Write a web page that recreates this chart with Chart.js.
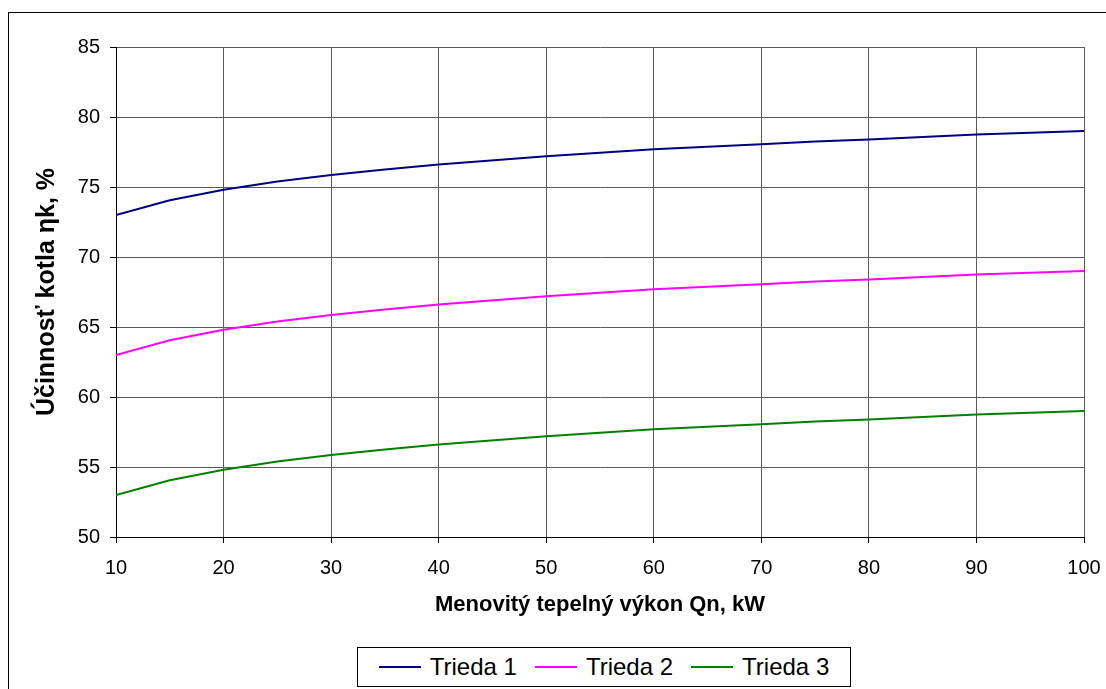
<!DOCTYPE html>
<html>
<head>
<meta charset="utf-8">
<script src="https://cdn.jsdelivr.net/npm/chart.js@4.4.1/dist/chart.umd.min.js"></script>
<style>
  html, body { margin: 0; padding: 0; background: #fff; }
  body { width: 1106px; height: 689px; position: relative; overflow: hidden; font-family: "Liberation Sans", Arial, sans-serif; }
  #frame { position: absolute; left: 8px; top: 12px; right: -10px; bottom: -10px; border-top: 1px solid #000; border-left: 1px solid #000; }
  #wrap { position: absolute; left: 0; top: 0; }
  #legend { position: absolute; left: 357px; top: 647px; width: 494px; height: 40px; border: 1px solid #000; box-sizing: border-box;
    display: flex; align-items: center; justify-content: center; gap: 18px; font-size: 24px; color: #000; background: #fff; }
  .li { display: flex; align-items: center; }
  .li span.sw { display: inline-block; width: 42px; height: 2px; margin-right: 9px; }
</style>
</head>
<body>
<div id="frame"></div>
<div id="wrap"><canvas id="c" width="1106" height="640"></canvas></div>
<div id="legend"></div>
<script>
// ── DATA ──
const power = [10, 15, 20, 25, 30, 35, 40, 50, 60, 70, 75, 80, 90, 100];
const trieda1 = [73, 74.05, 74.8, 75.4, 75.85, 76.25, 76.6, 77.2, 77.7, 78.05, 78.25, 78.4, 78.75, 79];
const trieda2 = [63, 64.05, 64.8, 65.4, 65.85, 66.25, 66.6, 67.2, 67.7, 68.05, 68.25, 68.4, 68.75, 69];
const trieda3 = [53, 54.05, 54.8, 55.4, 55.85, 56.25, 56.6, 57.2, 57.7, 58.05, 58.25, 58.4, 58.75, 59];
const seriesNames = ['Trieda 1', 'Trieda 2', 'Trieda 3'];
const seriesColors = ['#000080', '#ff00ff', '#008000'];
const xTitle = 'Menovitý tepelný výkon Qn, kW';
const yTitle = 'Účinnosť kotla ηk, %';

const FONT = '"Liberation Sans", Arial, sans-serif';
const pts = arr => power.map((x, i) => ({ x, y: arr[i] }));

new Chart(document.getElementById('c'), {
  type: 'line',
  data: {
    datasets: [trieda1, trieda2, trieda3].map((d, i) => ({
      label: seriesNames[i], data: pts(d),
      borderColor: seriesColors[i], backgroundColor: seriesColors[i],
      borderWidth: 2, pointRadius: 0, tension: 0, fill: false
    }))
  },
  options: {
    responsive: false, animation: false,
    layout: { padding: { left: 0, top: 47, right: 22, bottom: 0 } },
    plugins: { legend: { display: false }, tooltip: { enabled: false } },
    scales: {
      x: {
        type: 'linear', min: 10, max: 100,
        afterFit: s => { s.height = 103; s.paddingRight = 0; s.paddingLeft = 0; },
        ticks: { stepSize: 10, color: '#000', padding: 13, font: { family: FONT, size: 20 }, maxRotation: 0 },
        grid: { color: '#5a5a5a', lineWidth: 1, tickLength: 6, tickColor: '#000' },
        border: { color: '#000', width: 1 },
        title: { display: true, text: xTitle, color: '#000', padding: { top: 0, bottom: 22 },
          font: { family: FONT, size: 22, weight: 'bold' } }
      },
      y: {
        min: 50, max: 85,
        afterFit: s => { s.width = 116; },
        ticks: { stepSize: 5, color: '#000', padding: 10, font: { family: FONT, size: 20 } },
        grid: { color: '#5a5a5a', lineWidth: 1, tickLength: 6, tickColor: '#000' },
        border: { color: '#000', width: 1 },
        title: { display: true, text: yTitle, color: '#000', padding: { top: 32, bottom: 0 },
          font: { family: FONT, size: 25, weight: 'bold' } }
      }
    }
  }
});

// ── LEGEND ──
const lg = document.getElementById('legend');
seriesNames.forEach((n, i) => {
  const el = document.createElement('div');
  el.className = 'li';
  el.innerHTML = `<span class="sw" style="background:${seriesColors[i]}"></span>${n}`;
  lg.appendChild(el);
});
</script>
</body>
</html>
